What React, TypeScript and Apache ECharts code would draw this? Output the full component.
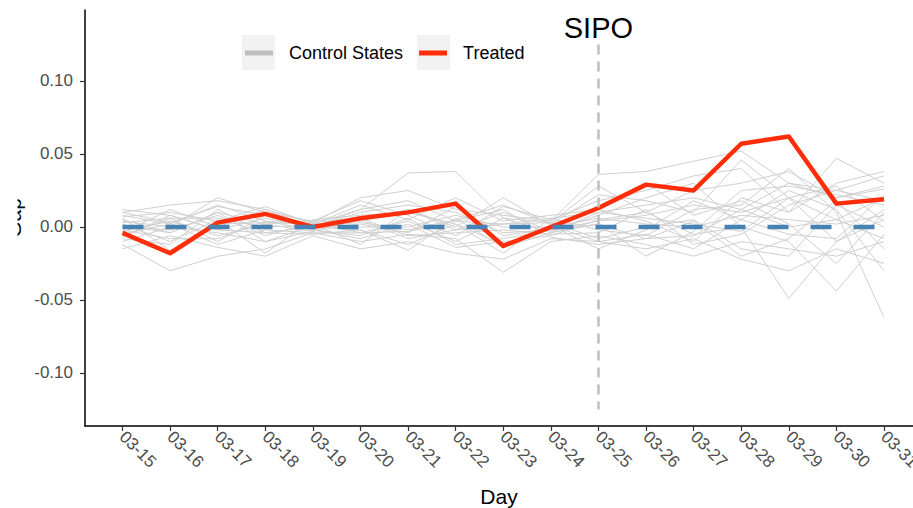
import React, { useEffect, useRef } from 'react';
import * as echarts from 'echarts';

const days = ['03-15', '03-16', '03-17', '03-18', '03-19', '03-20', '03-21', '03-22', '03-23', '03-24', '03-25', '03-26', '03-27', '03-28', '03-29', '03-30', '03-31'];

const treated = [-0.004, -0.018, 0.003, 0.009, 0.0, 0.006, 0.01, 0.016, -0.013, 0.0, 0.013, 0.029, 0.025, 0.057, 0.062, 0.016, 0.019];

const synthetic = [0, 0, 0, 0, 0, 0, 0, 0, 0, 0, 0, 0, 0, 0, 0, 0, 0];

const controlStates: number[][] = [
  [0.008, 0.002, 0.015, 0.004, 0.002, 0.012, 0.037, 0.038, 0.006, -0.004, 0.010, 0.015, 0.020, 0.012, 0.030, 0.025, 0.035],
  [-0.012, -0.030, -0.020, -0.015, -0.004, -0.010, -0.005, -0.008, -0.031, -0.010, -0.006, -0.012, -0.020, -0.010, -0.015, -0.020, -0.010],
  [0.010, 0.015, 0.018, 0.012, 0.003, 0.020, 0.025, 0.012, 0.008, 0.004, 0.036, 0.038, 0.045, 0.052, 0.030, 0.020, 0.028],
  [0.005, -0.004, 0.010, -0.010, 0.001, 0.003, -0.002, 0.005, 0.015, 0.002, 0.022, 0.018, 0.010, 0.046, 0.020, -0.010, 0.005],
  [-0.006, 0.006, -0.010, 0.008, -0.002, -0.008, 0.002, -0.014, -0.010, -0.006, 0.005, 0.010, -0.005, 0.000, -0.049, -0.010, 0.012],
  [0.002, -0.010, 0.005, -0.018, 0.005, 0.008, 0.010, 0.002, -0.018, 0.006, -0.002, -0.006, 0.012, 0.015, 0.040, 0.010, -0.062],
  [-0.003, 0.004, -0.006, 0.002, -0.003, 0.005, -0.008, -0.002, 0.010, -0.003, 0.008, 0.020, 0.030, 0.000, -0.010, -0.044, -0.005],
  [0.007, 0.010, 0.004, 0.014, 0.002, 0.015, 0.005, 0.020, 0.004, 0.008, 0.012, 0.004, -0.010, 0.020, 0.010, 0.047, 0.030],
  [-0.008, -0.012, 0.012, -0.004, -0.005, -0.002, -0.016, 0.006, -0.014, -0.004, 0.002, -0.020, -0.003, 0.025, 0.028, 0.022, 0.015],
  [0.004, 0.000, 0.020, 0.010, 0.004, 0.018, 0.008, -0.006, 0.014, 0.005, 0.018, 0.025, 0.035, 0.040, 0.010, 0.030, 0.038],
  [-0.015, -0.006, -0.014, -0.020, -0.006, -0.015, -0.010, -0.018, -0.022, -0.008, -0.010, -0.015, -0.008, -0.022, -0.030, -0.015, -0.025],
  [0.012, 0.008, -0.002, 0.006, 0.000, 0.010, 0.015, 0.010, -0.004, -0.002, 0.004, 0.008, 0.015, 0.010, 0.020, 0.005, 0.020],
  [0.000, -0.002, 0.008, -0.006, 0.003, -0.004, 0.004, -0.010, 0.006, 0.003, -0.008, 0.000, 0.005, -0.015, -0.020, 0.015, 0.000],
  [-0.004, 0.012, 0.000, 0.012, -0.001, 0.002, -0.004, 0.014, -0.006, -0.001, 0.014, 0.030, 0.008, 0.018, 0.002, -0.025, 0.010],
  [0.006, -0.016, 0.002, 0.003, 0.002, -0.012, 0.012, 0.000, 0.020, 0.001, -0.015, -0.002, 0.018, 0.005, 0.025, 0.012, -0.030],
  [-0.010, 0.000, -0.004, -0.010, -0.003, 0.006, -0.006, -0.004, -0.002, -0.005, -0.004, 0.012, -0.012, -0.005, 0.015, 0.025, 0.018],
  [0.003, 0.006, 0.006, 0.000, 0.001, 0.000, 0.000, 0.008, 0.000, 0.000, 0.006, 0.002, 0.000, 0.008, 0.005, 0.002, 0.008],
  [-0.002, -0.008, -0.008, 0.004, -0.002, -0.006, 0.006, -0.012, -0.008, -0.002, 0.002, -0.008, 0.004, -0.020, -0.008, 0.018, -0.015],
  [0.010, 0.003, 0.014, 0.008, 0.000, 0.012, 0.018, 0.004, 0.002, 0.003, 0.028, 0.010, 0.025, 0.030, 0.038, 0.020, 0.026],
  [-0.007, 0.008, -0.002, -0.004, 0.000, -0.002, -0.012, 0.002, -0.012, 0.001, -0.010, -0.005, -0.015, 0.005, -0.005, -0.008, 0.022],
  [0.001, -0.004, 0.010, 0.002, 0.004, 0.004, 0.012, -0.002, 0.002, 0.006, 0.010, 0.006, 0.002, -0.003, 0.020, 0.028, 0.004],
  [-0.005, 0.002, -0.012, -0.002, -0.004, -0.004, -0.003, 0.004, 0.012, -0.007, -0.012, -0.008, -0.006, 0.012, 0.000, 0.005, -0.008],
];

const yTicks = [-0.1, -0.05, 0, 0.05, 0.1];
const yMin = -0.1363;
const yMax = 0.1486;
const treatmentDay = '03-25';
const sipoTop = 0.125;
const sipoBottom = -0.125;

const FONT = '"Liberation Sans", Arial, Helvetica, sans-serif';

export default function App() {
  const ref = useRef<HTMLDivElement>(null);

  useEffect(() => {
    if (!ref.current) return;
    const chart = echarts.init(ref.current, null, { renderer: 'svg' });

    const controlSeries = controlStates.map((d) => ({
      type: 'line',
      name: 'Control States',
      xAxisIndex: 1,
      yAxisIndex: 1,
      data: d,
      symbol: 'none',
      silent: true,
      z: 2,
      lineStyle: { color: '#CFCFCF', width: 1 },
      itemStyle: { color: '#BEBEBE' },
    }));

    chart.setOption({
      animation: false,
      textStyle: { fontFamily: FONT },
      grid: [
        { left: 85, right: 0, top: 10, bottom: 82, outerBoundsMode: 'none', containLabel: false },
        { left: 122.5, right: 29, top: 10, bottom: 82, outerBoundsMode: 'none', containLabel: false },
      ],
      xAxis: [
        {
          type: 'value',
          gridIndex: 0,
          min: 0,
          max: 1,
          axisLine: { show: true, onZero: false, lineStyle: { color: '#000', width: 1.5 } },
          axisTick: { show: false },
          axisLabel: { show: false },
          splitLine: { show: false },
          name: 'Day',
          nameLocation: 'middle',
          nameGap: 60,
          nameTextStyle: { fontSize: 21, color: '#000', fontFamily: FONT },
        },
        {
          type: 'category',
          gridIndex: 1,
          data: days,
          boundaryGap: false,
          axisLine: { show: false, onZero: false },
          axisTick: { show: true, alignWithLabel: true, length: 5, lineStyle: { color: '#333', width: 1.2 } },
          axisLabel: { rotate: -45, fontSize: 17, color: '#4D4D4D', margin: 8, fontFamily: FONT, interval: 0 },
          splitLine: { show: false },
        },
      ],
      yAxis: [
        {
          type: 'value',
          gridIndex: 0,
          min: yMin,
          max: yMax,
          axisLine: { show: true, onZero: false, lineStyle: { color: '#000', width: 1.5 } },
          axisTick: { show: true, length: 5, customValues: yTicks, lineStyle: { color: '#333', width: 1.2 } },
          axisLabel: {
            customValues: yTicks,
            formatter: (v: number) => v.toFixed(2),
            fontSize: 17,
            color: '#4D4D4D',
            margin: 12,
            fontFamily: FONT,
          },
          splitLine: { show: false },
        },
        {
          type: 'value',
          gridIndex: 1,
          min: yMin,
          max: yMax,
          show: false,
          splitLine: { show: false },
        },
      ],
      legend: {
        data: [
          { name: 'Control States', icon: 'rect', itemStyle: { color: '#BEBEBE' } },
          { name: 'Treated', icon: 'rect', itemStyle: { color: '#FF2D0A' } },
        ],
        left: 245,
        top: 44,
        padding: 0,
        itemWidth: 28,
        itemHeight: 5,
        itemGap: 16,
        selectedMode: false,
        z: 5,
        textStyle: { fontSize: 18, color: '#000', fontFamily: FONT, padding: [0, 0, 0, 11] },
      },
      graphic: [
        { type: 'rect', shape: { x: 242, y: 35, width: 33, height: 35 }, style: { fill: '#F2F2F2' }, z: 0 },
        { type: 'rect', shape: { x: 417, y: 35, width: 33, height: 35 }, style: { fill: '#F2F2F2' }, z: 0 },
        {
          type: 'text',
          x: 24,
          y: 218,
          rotation: Math.PI / 2,
          style: { text: 'Gap', fontSize: 21, fill: '#000', fontFamily: FONT, align: 'center', verticalAlign: 'bottom' },
          z: 1,
        },
        { type: 'rect', shape: { x: 0, y: 170, width: 17.5, height: 100 }, style: { fill: '#fff' }, z: 2 },
      ],
      series: [
        ...controlSeries,
        {
          type: 'line',
          name: 'Treated',
          xAxisIndex: 1,
          yAxisIndex: 1,
          data: treated,
          symbol: 'none',
          silent: true,
          z: 3,
          lineStyle: { color: '#FF2D0A', width: 4.5, join: 'round' },
          itemStyle: { color: '#FF2D0A' },
        },
        {
          type: 'line',
          name: 'Synthetic',
          xAxisIndex: 1,
          yAxisIndex: 1,
          data: synthetic,
          symbol: 'none',
          silent: true,
          z: 4,
          lineStyle: { color: '#4682B4', width: 4.5, type: [21, 22] },
          itemStyle: { color: '#4682B4' },
          markLine: {
            silent: true,
            symbol: 'none',
            animation: false,
            lineStyle: { color: '#BEBEBE', width: 2.5, type: [10, 7] },
            label: {
              show: true,
              position: 'start',
              formatter: 'SIPO',
              fontSize: 29,
              color: '#000',
              fontFamily: FONT,
              distance: 2,
            },
            data: [
              [
                { coord: [treatmentDay, sipoTop] },
                { coord: [treatmentDay, sipoBottom] },
              ],
            ],
          },
        },
      ],
    });

    return () => chart.dispose();
  }, []);

  return (
    <div
      ref={ref}
      style={{ position: 'absolute', left: 0, top: 0, width: 913, height: 508, background: '#fff' }}
    />
  );
}
